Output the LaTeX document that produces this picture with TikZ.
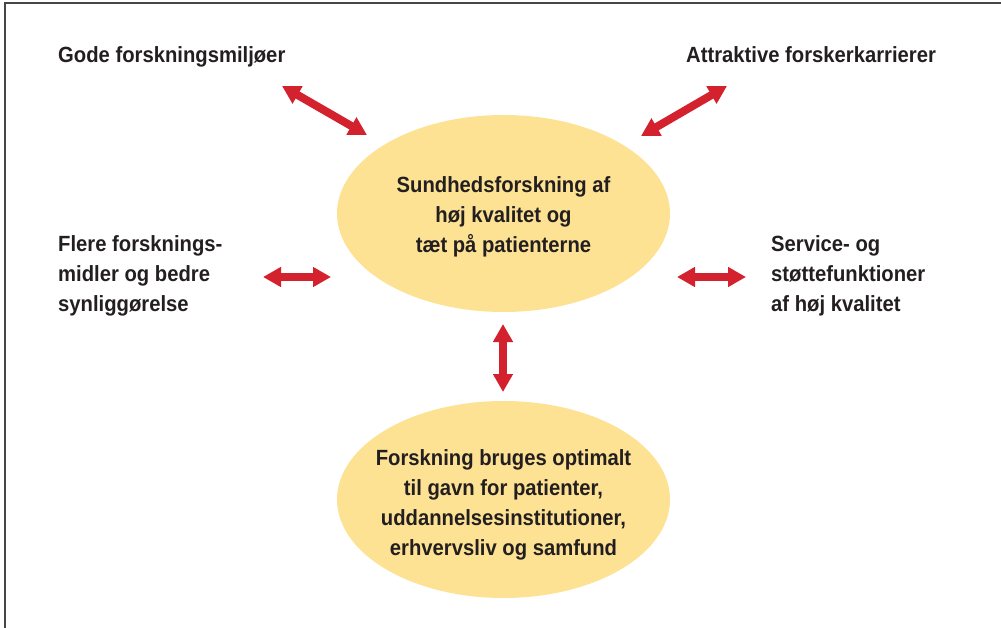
\documentclass[tikz,border=0pt]{standalone}
\usepackage{fontspec}
\setmainfont{Liberation Sans}[FakeStretch=0.92]
\usetikzlibrary{shapes.geometric,arrows.meta}

\definecolor{ovalfill}{RGB}{253,226,148}
\definecolor{arrowred}{RGB}{212,33,46}
\definecolor{textblack}{RGB}{35,31,32}
\definecolor{framegray}{RGB}{70,70,70}

\tikzset{
  goal/.style={font=\bfseries\fontsize{22}{30}\selectfont, text=textblack, align=left, inner sep=0pt},
  oval/.style={ellipse, fill=ovalfill, minimum width=333pt, minimum height=197pt, inner sep=0pt},
  ovaltext/.style={goal, align=center},
  twoway/.style={arrowred, line width=8pt, {Triangle[length=18pt,width=19pt]}-{Triangle[length=18pt,width=19pt]}},
}

\begin{document}
\begin{tikzpicture}[x=1pt, y=-1pt]

\useasboundingbox (0,0) rectangle (1001,628);

% frame
\draw[framegray, line width=2pt] (5,628) -- (5,3) -- (1001,3);

% the two ovals
\path 
(503.5,213.5) node[oval] (core) {}
(503.5,499.5) node[oval] (use) {};

\path 
(503.5,216.5) node[ovaltext] (coretext) {Sundhedsforskning af\\høj kvalitet og\\tæt på patienterne}
(503.5,504.5) node[ovaltext] (usetext) {Forskning bruges optimalt\\til gavn for patienter,\\uddannelsesinstitutioner,\\erhvervsliv og samfund};

% the four goals round it
\path 
(58,63) node[goal, anchor=base west] (milieu) {Gode forskningsmiljøer}
(686,63) node[goal, anchor=base west] (career) {Attraktive forskerkarrierer}
(58,276) node[goal, anchor=west] (funds) {Flere forsknings-\\midler og bedre\\synliggørelse}
(771,276) node[goal, anchor=west] (service) {Service- og\\støttefunktioner\\af høj kvalitet};

% arrow ends
\coordinate (milieuA) at (282,86);
\coordinate (milieuB) at (367,135);
\coordinate (careerA) at (727,86);
\coordinate (careerB) at (641,136);
\coordinate (fundsA) at (263,277);
\coordinate (fundsB) at (331,277);
\coordinate (serviceA) at (746,277);
\coordinate (serviceB) at (677,277);
\coordinate (useA) at (503,324);
\coordinate (useB) at (503,392);

% two-way arrows
\draw[twoway] (milieuA) -- (milieuB);
\draw[twoway] (careerA) -- (careerB);
\draw[twoway] (fundsA) -- (fundsB);
\draw[twoway] (serviceA) -- (serviceB);
\draw[twoway] (useA) -- (useB);

\end{tikzpicture}
\end{document}
